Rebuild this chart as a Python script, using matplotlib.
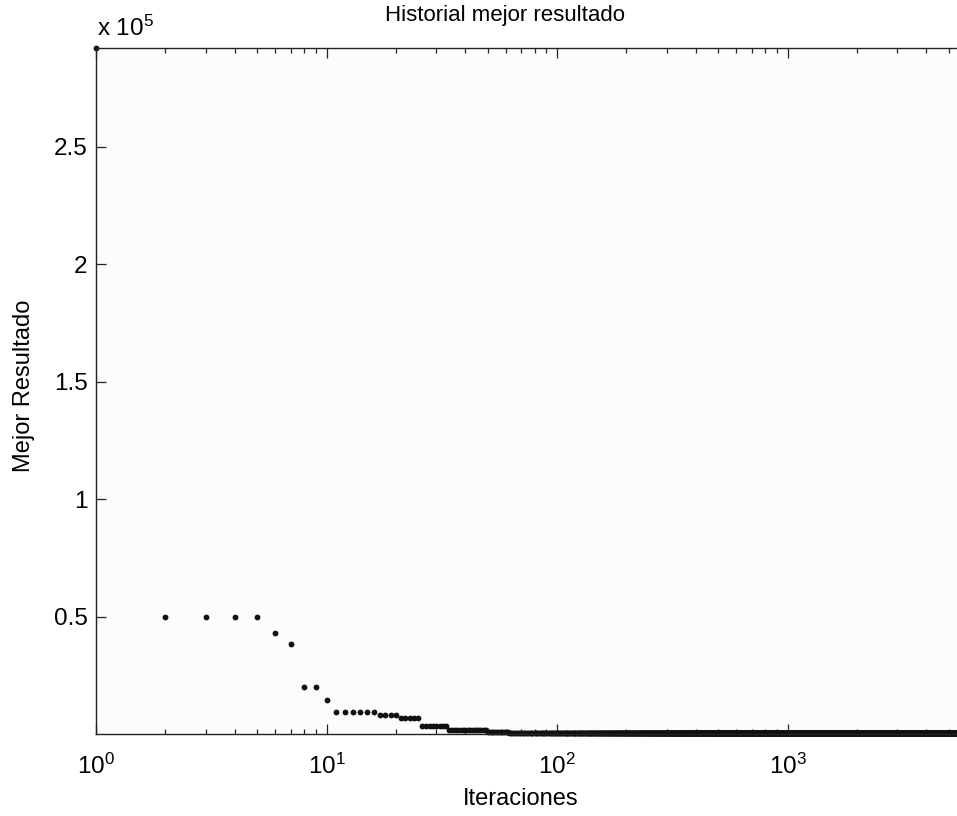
import matplotlib

matplotlib.use("Agg")
import matplotlib.pyplot as plt
import numpy as np

plt.rcParams["font.family"] = ["Liberation Sans", "DejaVu Sans"]
plt.rcParams["mathtext.fontset"] = "custom"
plt.rcParams["mathtext.rm"] = "Liberation Sans"

# best-result history as step segments: first iteration of each step and its value
seg_start = [1, 2, 6, 7, 8, 10, 11, 17, 21, 26, 34, 50, 62, 140]
seg_value = [2.92e5, 0.498e5, 0.432e5, 0.385e5, 0.198e5, 0.144e5, 0.092e5,
             0.081e5, 0.068e5, 0.033e5, 0.019e5, 0.010e5, 0.005e5, 0.003e5]
n_iter = 10000

ytick_vals = [0.5e5, 1e5, 1.5e5, 2e5, 2.5e5]
ytick_labels = ["0.5", "1", "1.5", "2", "2.5"]
xtick_vals = [1, 10, 100, 1000, 10000]
xtick_labels = [r"$\mathregular{10^{%d}}$" % i for i in range(4)] + [""]

lengths = np.diff(seg_start + [n_iter + 1])
iters = np.arange(1, n_iter + 1)
best = np.repeat(seg_value, lengths)

W, H = 957, 816
fig = plt.figure(figsize=(W / 100, H / 100), dpi=100)
left, right, top, bottom = 96, 1018, 48, 734
ax = fig.add_axes([left / W, 1 - bottom / H, (right - left) / W, (bottom - top) / H])
ax.set_facecolor("#fcfcfc")

ax.plot(iters, best, "o", color="#111111", ms=4.2, mew=0, clip_on=False)

ax.set_xscale("log")
ax.set_xlim(1, n_iter)
ax.set_ylim(0, 2.92e5)
ax.set_xticks(xtick_vals)
ax.set_xticklabels(xtick_labels)
ax.set_yticks(ytick_vals)
ax.set_yticklabels(ytick_labels)

ax.tick_params(which="both", direction="in", top=True, right=True,
               labelsize=17.5, width=0.9, color="#222222")
ax.tick_params(axis="y", pad=6)
ax.tick_params(axis="x", pad=14)
ax.tick_params(which="major", length=7)
ax.tick_params(which="minor", length=3.5)
for s in ax.spines.values():
    s.set_linewidth(1.0)
    s.set_color("#222222")

fig.text(505 / W, 1 - 15 / H, "Historial mejor resultado", fontsize=16,
         ha="center", va="center")
fig.text(521 / W, 1 - 799 / H, "Iteraciones", fontsize=17,
         ha="center", va="center")
fig.text(24 / W, 1 - 386 / H, "Mejor Resultado", fontsize=17,
         ha="center", va="center", rotation=90)
fig.text(97 / W, 1 - 28 / H, r"x $\mathregular{10^{5}}$", fontsize=17.5,
         ha="left", va="center")

fig.savefig("out.png", dpi=100)
